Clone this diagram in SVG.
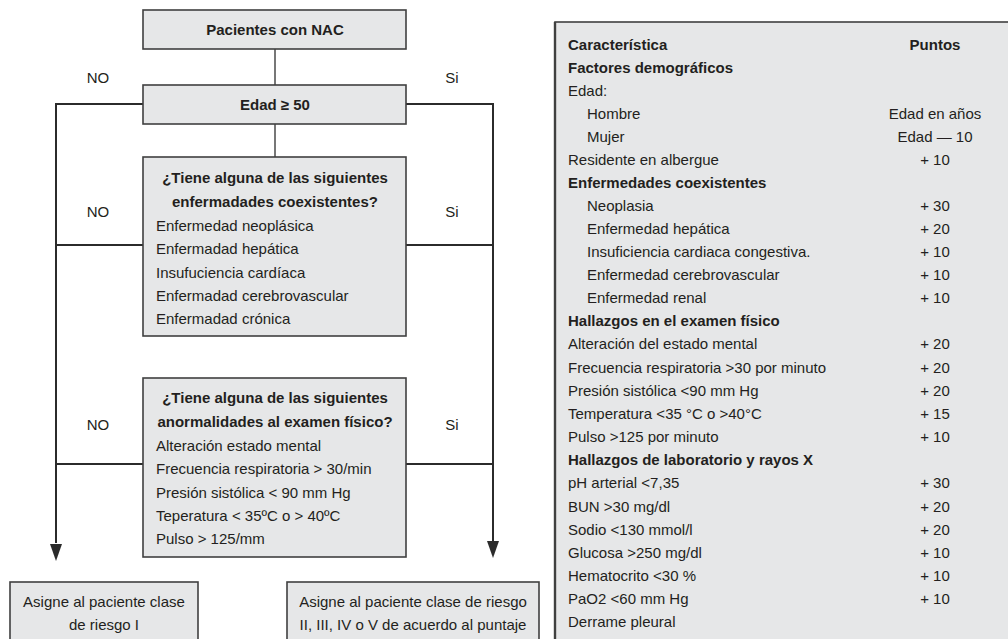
<svg xmlns="http://www.w3.org/2000/svg" width="1008" height="639" viewBox="0 0 1008 639">
<style>
text{font-family:"Liberation Sans",Arial,sans-serif;font-size:15px;fill:#231f20}
.b{font-weight:bold}
.c{text-anchor:middle}
.box{fill:#e6e7e8;stroke:#404040;stroke-width:1.6}
.ln{fill:none;stroke:#2b2b2b;stroke-width:2}
.cl{fill:none;stroke:#555;stroke-width:1.6}
</style>
<defs>
<marker id="ah" markerWidth="12" markerHeight="17" refX="6" refY="17" orient="auto" markerUnits="userSpaceOnUse" viewBox="0 0 12 17">
<path d="M0,0 L12,0 L6,17 Z" fill="#2b2b2b"/>
</marker>
</defs>
<rect width="1008" height="639" fill="#fff"/>

<g id="connectors">
<line class="cl" x1="275" y1="49" x2="275" y2="85"/>
<line class="cl" x1="275" y1="124" x2="275" y2="157"/>
<path class="ln" d="M143,104 H56 V543"/>
<path class="ln" d="M406,104 H493 V541"/>
<line class="ln" x1="56" y1="245" x2="143" y2="245"/>
<line class="ln" x1="406" y1="245" x2="493" y2="245"/>
<line class="ln" x1="56" y1="464" x2="143" y2="464"/>
<line class="ln" x1="406" y1="464" x2="493" y2="464"/>
<path d="M50,544 L62,544 L56,561 Z" fill="#2b2b2b"/>
<path d="M487,541 L499,541 L493,558 Z" fill="#2b2b2b"/>
<text class="c" x="98" y="83">NO</text>
<text class="c" x="452" y="83">Si</text>
<text class="c" x="98" y="217">NO</text>
<text class="c" x="452" y="217">Si</text>
<text class="c" x="98" y="430">NO</text>
<text class="c" x="452" y="430">Si</text>
</g>

<g id="n-pacientes">
<rect class="box" x="143" y="10" width="263" height="39"/>
<text class="b c" x="275" y="35">Pacientes con NAC</text>
</g>

<g id="n-edad">
<rect class="box" x="143" y="85" width="263" height="39"/>
<text class="b c" x="275" y="110">Edad ≥ 50</text>
</g>

<g id="n-enfermedades">
<rect class="box" x="143" y="157" width="263" height="179"/>
<text class="b c" x="275" y="183">¿Tiene alguna de las siguientes</text>
<text class="b c" x="275" y="207">enfermadades coexistentes?</text>
<text x="156" y="231">Enfermedad neoplásica</text>
<text x="156" y="254">Enfermadad hepática</text>
<text x="156" y="278">Insufuciencia cardíaca</text>
<text x="156" y="301">Enfermadad cerebrovascular</text>
<text x="156" y="324">Enfermadad crónica</text>
</g>

<g id="n-examen">
<rect class="box" x="143" y="378" width="263" height="179"/>
<text class="b c" x="275" y="403">¿Tiene alguna de las siguientes</text>
<text class="b c" x="275" y="427">anormalidades al examen físico?</text>
<text x="156" y="451">Alteración estado mental</text>
<text x="156" y="474">Frecuencia respiratoria &gt; 30/min</text>
<text x="156" y="498">Presión sistólica &lt; 90 mm Hg</text>
<text x="156" y="521">Teperatura &lt; 35ºC o &gt; 40ºC</text>
<text x="156" y="544">Pulso &gt; 125/mm</text>
</g>

<g id="n-riesgo1">
<rect class="box" x="10" y="582" width="188" height="70"/>
<text class="c" x="104" y="607">Asigne al paciente clase</text>
<text class="c" x="104" y="630">de riesgo I</text>
</g>

<g id="n-riesgo2">
<rect class="box" x="287" y="582" width="252" height="70"/>
<text class="c" x="413" y="607">Asigne al paciente clase de riesgo</text>
<text class="c" x="413" y="630">II, III, IV o V de acuerdo al puntaje</text>
</g>

<g id="n-tabla">
<rect class="box" x="555" y="22" width="470" height="640"/>
<line x1="555" y1="22" x2="555" y2="639" stroke="#404040" stroke-width="2.4"/>
<text class="b" x="568" y="50">Característica</text>
<text class="b c" x="935" y="50">Puntos</text>
<text class="b" x="568" y="73">Factores demográficos</text>
<text x="568" y="96">Edad:</text>
<text x="587" y="119">Hombre</text><text class="c" x="935" y="119">Edad en años</text>
<text x="587" y="142">Mujer</text><text class="c" x="935" y="142">Edad — 10</text>
<text x="568" y="165">Residente en albergue</text><text class="c" x="935" y="165">+ 10</text>
<text class="b" x="568" y="188">Enfermedades coexistentes</text>
<text x="587" y="211">Neoplasia</text><text class="c" x="935" y="211">+ 30</text>
<text x="587" y="234">Enfermedad hepática</text><text class="c" x="935" y="234">+ 20</text>
<text x="587" y="257">Insuficiencia cardiaca congestiva.</text><text class="c" x="935" y="257">+ 10</text>
<text x="587" y="280">Enfermedad cerebrovascular</text><text class="c" x="935" y="280">+ 10</text>
<text x="587" y="303">Enfermedad renal</text><text class="c" x="935" y="303">+ 10</text>
<text class="b" x="568" y="326">Hallazgos en el examen físico</text>
<text x="568" y="349">Alteración del estado mental</text><text class="c" x="935" y="349">+ 20</text>
<text x="568" y="373">Frecuencia respiratoria &gt;30 por minuto</text><text class="c" x="935" y="373">+ 20</text>
<text x="568" y="396">Presión sistólica &lt;90 mm Hg</text><text class="c" x="935" y="396">+ 20</text>
<text x="568" y="419">Temperatura &lt;35 °C o &gt;40°C</text><text class="c" x="935" y="419">+ 15</text>
<text x="568" y="442">Pulso &gt;125 por minuto</text><text class="c" x="935" y="442">+ 10</text>
<text class="b" x="568" y="465">Hallazgos de laboratorio y rayos X</text>
<text x="568" y="488">pH arterial &lt;7,35</text><text class="c" x="935" y="488">+ 30</text>
<text x="568" y="512">BUN &gt;30 mg/dl</text><text class="c" x="935" y="512">+ 20</text>
<text x="568" y="535">Sodio &lt;130 mmol/l</text><text class="c" x="935" y="535">+ 20</text>
<text x="568" y="558">Glucosa &gt;250 mg/dl</text><text class="c" x="935" y="558">+ 10</text>
<text x="568" y="581">Hematocrito &lt;30 %</text><text class="c" x="935" y="581">+ 10</text>
<text x="568" y="604">PaO2 &lt;60 mm Hg</text><text class="c" x="935" y="604">+ 10</text>
<text x="568" y="627">Derrame pleural</text>
</g>
</svg>
